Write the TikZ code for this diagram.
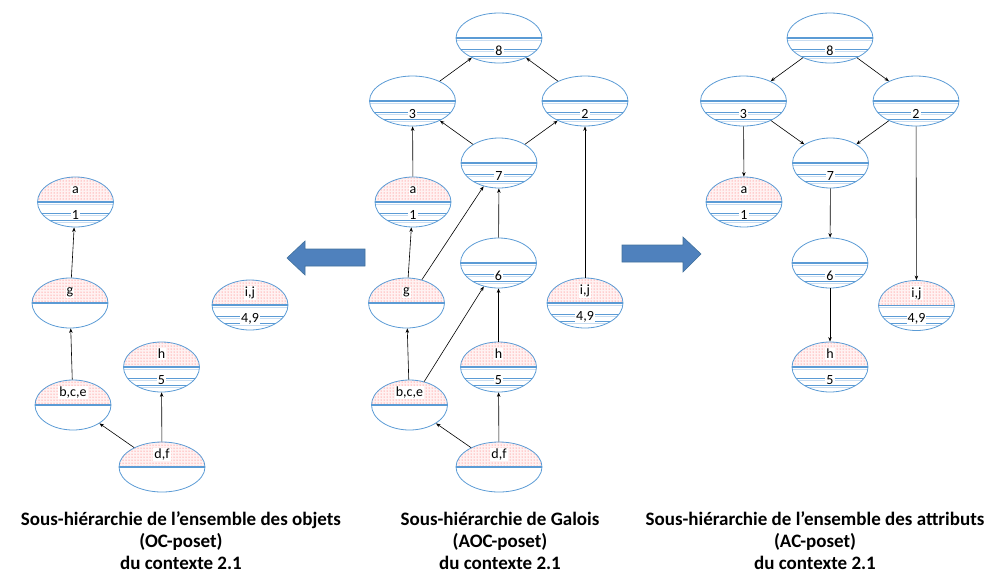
\documentclass[tikz,border=0pt]{standalone}
\usepackage{fontspec}
\setmainfont{Carlito}
\usetikzlibrary{shapes.geometric,arrows.meta,patterns}
\definecolor{cblue}{HTML}{5B9BD5}
\definecolor{pale}{HTML}{C9DDF1}
\definecolor{arrfill}{HTML}{4F81BD}
\definecolor{arrdraw}{HTML}{41719C}
\newcommand\topdots{\fill[red!5] (path picture bounding box.west) rectangle (path picture bounding box.north east);\fill[pattern=dots,pattern color=red!65] (path picture bounding box.west) rectangle (path picture bounding box.north east);}
\newcommand\botstripes{\foreach \d/\c/\w in {2.2/pale/1.2,11/cblue/0.5,13/pale/1,18/cblue/0.5,20/pale/1}{\draw[color=\c, line width=\w pt] ([yshift=-\d pt]path picture bounding box.west) -- ([yshift=-\d pt]path picture bounding box.east);}}
\newcommand\sepline{\draw[cblue, line width=1.3pt] (path picture bounding box.west) -- (path picture bounding box.east);}
\newcommand\tlab[2]{\node[lbl, anchor=base] (#1-t) at ([yshift=8.5pt]#1.center) {#2};}
\newcommand\blab[2]{\node[lbl, anchor=base] (#1-b) at ([yshift=-17pt]#1.center) {#2};}
\tikzset{
  concept/.style={ellipse, draw=cblue, line width=0.8pt, minimum width=76pt, minimum height=50pt, inner sep=0pt},
  wide/.style={minimum width=86pt},
  obj/.style={concept, path picture={\topdots\sepline}},
  att/.style={concept, path picture={\botstripes\sepline}},
  both/.style={concept, path picture={\topdots\botstripes\sepline}},
  lbl/.style={fill=white, inner sep=1pt, font=\fontsize{14}{14}\selectfont},
  edge/.style={-{Stealth[length=4.5pt,width=3.5pt]}, line width=0.6pt},
  bigarrow/.style={fill=arrfill, draw=arrdraw, line width=0.6pt},
  capt/.style={align=center, font=\bfseries\fontsize{19}{22}\selectfont}
}
\begin{document}
\begin{tikzpicture}[x=1pt,y=-1pt]
\useasboundingbox (0,0) rectangle (990,574);
% middle
\node[att,wide] (m8) at (499,38) {};
\node[att,wide] (m3) at (412.5,101) {};
\node[att,wide] (m2) at (585,101) {};
\node[att] (m7) at (499,163) {};
\node[both] (ma) at (413,202) {};
\node[obj] (mg) at (406.5,303) {};
\node[att] (m6) at (498.5,263) {};
\node[obj] (mbce) at (409.5,405) {};
\node[both] (mh) at (498.5,367) {};
\node[obj,wide] (mdf) at (499,467) {};
\node[both] (mij) at (585,303) {};
% left
\node[both] (la) at (75.5,202) {};
\node[obj] (lg) at (70,303) {};
\node[obj] (lbce) at (73,405) {};
\node[both] (lh) at (161.5,367) {};
\node[obj,wide] (ldf) at (162,467) {};
\node[both] (lij) at (250,305) {};
% right
\node[att,wide] (r8) at (830,38) {};
\node[att,wide] (r3) at (743.5,101) {};
\node[att,wide] (r2) at (916,101) {};
\node[att] (r7) at (830.5,163) {};
\node[both] (ra) at (744,202) {};
\node[att] (r6) at (830,263) {};
\node[both] (rij) at (916.5,305.5) {};
\node[both] (rh) at (830,367) {};
% labels
\blab{m8}{8}\blab{m3}{3}\blab{m2}{2}\blab{m7}{7}
\tlab{ma}{a}\blab{ma}{1}\tlab{mg}{g}\blab{m6}{6}\tlab{mbce}{b,c,e}
\tlab{mh}{h}\blab{mh}{5}\tlab{mdf}{d,f}\tlab{mij}{i,j}\blab{mij}{4,9}
\tlab{la}{a}\blab{la}{1}\tlab{lg}{g}\tlab{lbce}{b,c,e}\tlab{lh}{h}\blab{lh}{5}
\tlab{ldf}{d,f}\tlab{lij}{i,j}\blab{lij}{4,9}
\blab{r8}{8}\blab{r3}{3}\blab{r2}{2}\blab{r7}{7}\tlab{ra}{a}\blab{ra}{1}
\blab{r6}{6}\tlab{rij}{i,j}\blab{rij}{4,9}\tlab{rh}{h}\blab{rh}{5}
% edges middle
\draw[edge] (m3) -- (m8);
\draw[edge] (m2) -- (m8);
\draw[edge] (m7) -- (m3);
\draw[edge] (m7) -- (m2);
\draw[edge] (ma) -- (m3);
\draw[edge] (mij) -- (m2);
\draw[edge] (mg) -- (ma);
\draw[edge] (mg) -- (m7);
\draw[edge] (m6) -- (m7);
\draw[edge] (mbce) -- (mg);
\draw[edge] (mbce) -- (m6);
\draw[edge] (mh) -- (m6);
\draw[edge] (mdf) -- (mh);
\draw[edge] (mdf) -- (mbce);
% edges left
\draw[edge] (lg) -- (la);
\draw[edge] (lbce) -- (lg);
\draw[edge] (ldf) -- (lbce);
\draw[edge] (ldf) -- (lh);
% edges right
\draw[edge] (r8) -- (r3);
\draw[edge] (r8) -- (r2);
\draw[edge] (r3) -- (r7);
\draw[edge] (r2) -- (r7);
\draw[edge] (r3) -- (ra);
\draw[edge] (r7) -- (r6);
\draw[edge] (r6) -- (rh);
\draw[edge] (r2) -- (rij);
% big arrows
\draw[bigarrow] (287,258) -- (305,241) -- (305,249) -- (365,249) -- (365,266) -- (305,266) -- (305,275) -- cycle;
\draw[bigarrow] (622,245) -- (683,245) -- (683,237) -- (701,254) -- (683,272) -- (683,262) -- (622,262) -- cycle;
% captions
\node[capt] (c1) at (181,541) {Sous-hiérarchie de l’ensemble des objets\\(OC-poset)\\du contexte 2.1};
\node[capt] (c2) at (500,541) {Sous-hiérarchie de Galois\\(AOC-poset)\\du contexte 2.1};
\node[capt] (c3) at (815,541) {Sous-hiérarchie de l’ensemble des attributs\\(AC-poset)\\du contexte 2.1};
\end{tikzpicture}
\end{document}
